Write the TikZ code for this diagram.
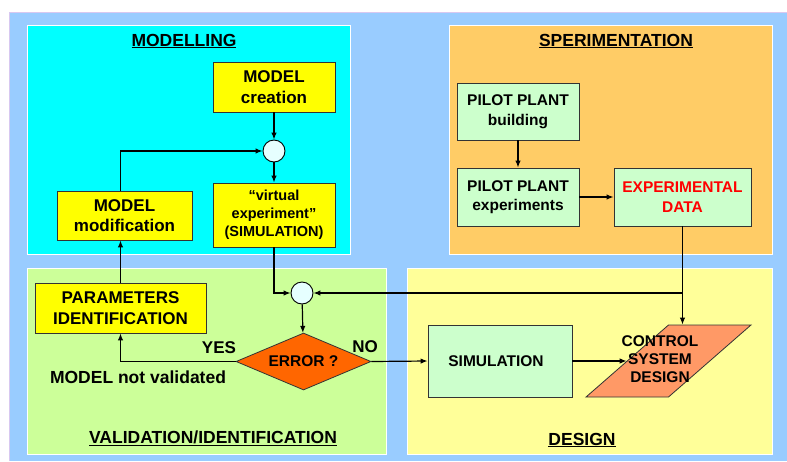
\documentclass[tikz,border=0pt]{standalone}
\usepackage{fontspec}
\setmainfont{Liberation Sans}
\usetikzlibrary{shapes.geometric,arrows.meta}

\definecolor{bgblue}{HTML}{99CCFF}
\definecolor{bgedge}{HTML}{D8C8F0}
\definecolor{modpanel}{HTML}{00FFFF}
\definecolor{exppanel}{HTML}{FFCC66}
\definecolor{valpanel}{HTML}{CCFF99}
\definecolor{despanel}{HTML}{FFFF99}
\definecolor{yelbox}{HTML}{FFFF00}
\definecolor{grnbox}{HTML}{CCFFCC}
\definecolor{errfill}{HTML}{FF6600}
\definecolor{csdfill}{HTML}{FF9966}
\definecolor{sumfill}{HTML}{E6FFFF}
\definecolor{edgegray}{HTML}{333333}

\tikzset{
  panel/.style={draw=white, line width=0.8pt},
  blk/.style={draw=edgegray, line width=0.9pt, inner sep=0pt, align=center, font=\bfseries},
  ybox/.style={blk, fill=yelbox},
  gbox/.style={blk, fill=grnbox},
  sumnode/.style={circle, draw=black, line width=0.9pt, fill=sumfill, minimum size=22pt, inner sep=0pt},
  arr/.style={draw=black, line width=1.2pt, -{Latex[length=7pt,width=5.5pt]}},
  ttl/.style={font=\bfseries\fontsize{17.5}{20}\selectfont},
  lbl/.style={font=\bfseries\fontsize{17}{20}\selectfont},
}

\begin{document}
\begin{tikzpicture}[x=1pt, y=-1pt]
\useasboundingbox (0,0) rectangle (787,461);

% background and the four areas
\fill[bgblue] (9,12) rectangle (787,461);
\draw[bgedge, line width=0.6pt] (9,461) -- (9,12) -- (787,12);
\filldraw[panel, fill=modpanel] (27,25) rectangle (350,254);
\filldraw[panel, fill=exppanel] (449,25) rectangle (772,254);
\filldraw[panel, fill=valpanel] (27,268) rectangle (386,454);
\filldraw[panel, fill=despanel] (407,268) rectangle (772,454);

% area titles
\node[ttl] (tmod) at (184,41) {\underline{MODELLING}};
\node[ttl] (texp) at (616,41) {\underline{SPERIMENTATION}};
\node[ttl] (tval) at (213,438) {\underline{VALIDATION/IDENTIFICATION}};
\node[ttl] (tdes) at (582,440) {\underline{DESIGN}};

% modelling
\node[ybox, minimum width=122pt, minimum height=50pt,
      font=\bfseries\fontsize{17}{20.5}\selectfont] (create) at (274,87) {MODEL\\creation};
\node[sumnode] (s1) at (274,151) {};
\node[ybox, minimum width=122pt, minimum height=64pt,
      font=\bfseries\fontsize{14.5}{18}\selectfont] (virt) at (274,215) {``virtual\\experiment''\\(SIMULATION)};
\node[ybox, minimum width=135pt, minimum height=49pt,
      font=\bfseries\fontsize{17}{20.5}\selectfont] (modif) at (124.5,215.5) {MODEL\\modification};

% experimentation
\node[gbox, minimum width=122pt, minimum height=57pt,
      font=\bfseries\fontsize{15.5}{19.5}\selectfont] (pbuild) at (518,111.5) {PILOT PLANT\\building};
\node[gbox, minimum width=122pt, minimum height=58pt,
      font=\bfseries\fontsize{15.5}{19.5}\selectfont] (pexp) at (518,197) {PILOT PLANT\\experiments};
\node[gbox, minimum width=137pt, minimum height=58pt, text=red,
      font=\bfseries\fontsize{15.5}{19.5}\selectfont] (edata) at (682.5,197) {EXPERIMENTAL\\DATA};

% validation / identification
\node[ybox, minimum width=171pt, minimum height=50pt,
      font=\bfseries\fontsize{17}{21}\selectfont] (params) at (120.5,308) {PARAMETERS\\IDENTIFICATION};
\node[sumnode] (s2) at (302,293) {};
\node[diamond, draw=edgegray, line width=0.8pt, fill=errfill, aspect=2.4, inner sep=0pt,
      minimum width=135pt, minimum height=57pt,
      font=\bfseries\fontsize{15.5}{18}\selectfont] (err) at (303.5,361.5) {ERROR ?};
\node[lbl] (yes) at (219,348) {YES};
\node[lbl] (no) at (365,347) {NO};
\node[lbl, font=\bfseries\fontsize{17.5}{20}\selectfont] (notval) at (138,377) {MODEL not validated};

% design
\node[gbox, minimum width=144pt, minimum height=72pt,
      font=\bfseries\fontsize{15.5}{19}\selectfont] (sim) at (500,361) {\hspace*{-8pt}SIMULATION};
\node[trapezium, trapezium left angle=66.7, trapezium right angle=113.3, trapezium stretches=true,
      draw=edgegray, line width=0.8pt, fill=csdfill, inner sep=0pt,
      minimum width=165pt, minimum height=72pt,
      font=\bfseries\fontsize{15.5}{19}\selectfont] (csd) at (668.5,361)
      {\makebox[0pt][c]{\hspace{-17pt}\begin{tabular}{@{}c@{}}CONTROL\\[-1pt]SYSTEM\\[-1pt]DESIGN\end{tabular}}};

% connectors
\draw[arr] (create) -- (s1);
\draw[arr] (s1) -- (virt);
\draw[arr] (params.north |- modif.north) |- (s1.west);
\draw[arr] (params.north) -- (params.north |- modif.south);
\draw[arr] (virt.south) |- (s2.west);
\draw[arr] (s2) -- (err);
\draw[arr] (err.west) -| (params.south);
\draw[arr] (err.east) -- (sim.west);
\draw[arr] (sim.east) -- (csd.left side);
\draw[arr] (pbuild) -- (pexp);
\draw[arr] (pexp) -- (edata);
\coordinate (jn) at (edata.south |- s2);
\draw[arr] (edata.south) -- (edata.south |- csd.top side);
\draw[arr] (jn) -- (s2.east);
\end{tikzpicture}
\end{document}
